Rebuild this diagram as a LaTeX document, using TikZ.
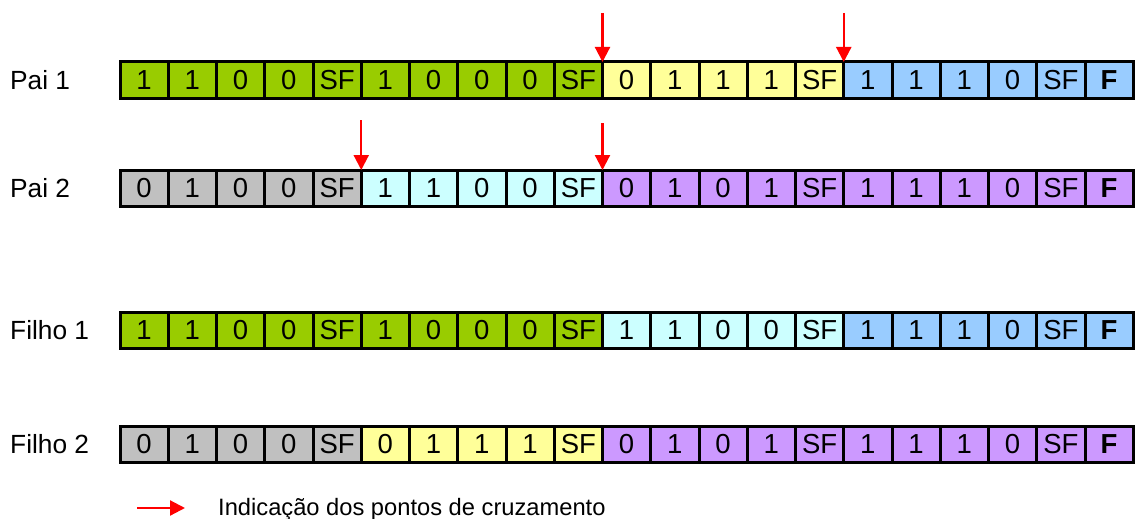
\documentclass[tikz,border=0pt]{standalone}
\usepackage{fontspec}
\setmainfont{Liberation Sans}
\usetikzlibrary{arrows.meta}

\definecolor{verde}{HTML}{99CC00}
\definecolor{amarelo}{HTML}{FFFF99}
\definecolor{azul}{HTML}{99CCFF}
\definecolor{ciano}{HTML}{CCFFFF}
\definecolor{cinza}{HTML}{C0C0C0}
\definecolor{lilas}{HTML}{CC99FF}

\tikzset{
  celula/.style={draw, line width=3pt, minimum width=48.25pt, minimum height=36pt,
    inner sep=0pt, outer sep=0pt, font=\fontsize{27.5}{30}\selectfont},
  rotulo/.style={anchor=west, inner sep=0pt, font=\fontsize{26.3}{30}\selectfont},
  seta/.style={red, line width=2.2pt, -{Triangle[length=15pt,width=15pt]}},
}

% uma linha de genes: nome, y, lista valor/cor
\newcommand{\cromossomo}[3]{%
  \foreach \v/\c [count=\i] in {#3}
    \node[celula, fill=\c] (#1-\i) at ({120+48.25*(\i-0.5)}, #2) {\v};
}

\begin{document}
\begin{tikzpicture}[x=1pt, y=-1pt]
\useasboundingbox (0,0) rectangle (1138,519);

\node[rotulo] (npa) at (10,80) {Pai 1};
\node[rotulo] (npb) at (10,188) {Pai 2};
\node[rotulo] (nfa) at (10,330) {Filho 1};
\node[rotulo] (nfb) at (10,444) {Filho 2};

\cromossomo{pa}{80}{1/verde,1/verde,0/verde,0/verde,SF/verde,1/verde,0/verde,0/verde,0/verde,SF/verde,
  0/amarelo,1/amarelo,1/amarelo,1/amarelo,SF/amarelo,1/azul,1/azul,1/azul,0/azul,SF/azul,\textbf{F}/azul}
\cromossomo{pb}{188}{0/cinza,1/cinza,0/cinza,0/cinza,SF/cinza,1/ciano,1/ciano,0/ciano,0/ciano,SF/ciano,
  0/lilas,1/lilas,0/lilas,1/lilas,SF/lilas,1/lilas,1/lilas,1/lilas,0/lilas,SF/lilas,\textbf{F}/lilas}
\cromossomo{fa}{330.5}{1/verde,1/verde,0/verde,0/verde,SF/verde,1/verde,0/verde,0/verde,0/verde,SF/verde,
  1/ciano,1/ciano,0/ciano,0/ciano,SF/ciano,1/azul,1/azul,1/azul,0/azul,SF/azul,\textbf{F}/azul}
\cromossomo{fb}{444.3}{0/cinza,1/cinza,0/cinza,0/cinza,SF/cinza,0/amarelo,1/amarelo,1/amarelo,1/amarelo,SF/amarelo,
  0/lilas,1/lilas,0/lilas,1/lilas,SF/lilas,1/lilas,1/lilas,1/lilas,0/lilas,SF/lilas,\textbf{F}/lilas}

% pontos de corte
\coordinate (ca) at ([yshift=49pt]pa-11.north west);
\coordinate (cb) at ([yshift=49pt]pa-16.north west);
\coordinate (cc) at ([yshift=50pt]pb-6.north west);
\coordinate (cd) at ([yshift=47pt]pb-11.north west);
\draw[seta] (ca) -- (pa-11.north west);
\draw[seta] (cb) -- (pa-16.north west);
\draw[seta] (cc) -- (pb-6.north west);
\draw[seta] (cd) -- (pb-11.north west);

% legenda
\coordinate (la) at (137,508);
\coordinate (lb) at (185,508);
\draw[seta] (la) -- (lb);
\node[anchor=base west, inner sep=0pt, font=\fontsize{23.7}{28}\selectfont] (legenda) at (218,515)
  {Indicação dos pontos de cruzamento};
\end{tikzpicture}
\end{document}
